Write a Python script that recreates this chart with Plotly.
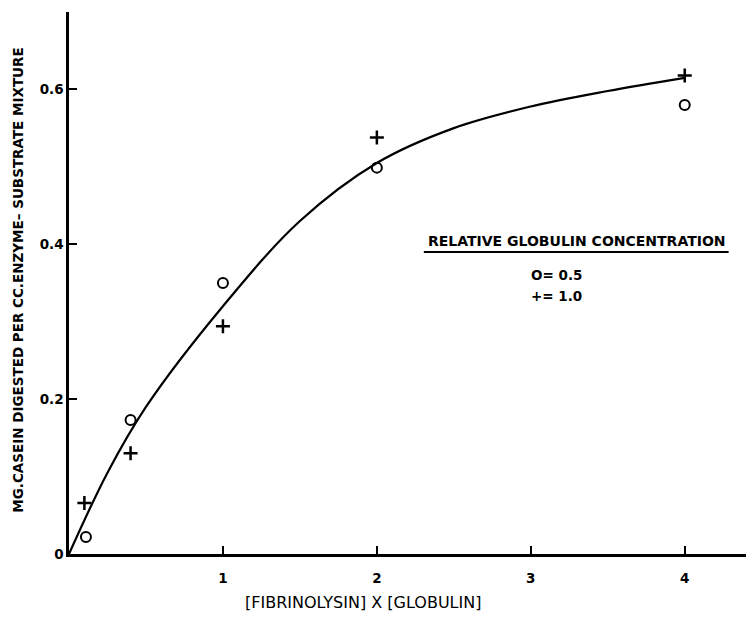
import plotly.graph_objects as go

# Data
x_half = [0.11, 0.4, 1.0, 2.0, 4.0]
y_half = [0.022, 0.173, 0.35, 0.499, 0.58]
x_one = [0.1, 0.4, 1.0, 2.0, 4.0]
y_one = [0.066, 0.13, 0.294, 0.538, 0.618]
curve_x = [0, 0.25, 0.5, 1.0, 1.5, 2.0, 2.5, 3.0, 3.5, 4.0]
curve_y = [0, 0.105, 0.19, 0.32, 0.43, 0.505, 0.55, 0.578, 0.598, 0.615]
x_ticks = [1, 2, 3, 4]
x_tick_labels = ["1", "2", "3", "4"]
y_ticks = [0, 0.2, 0.4, 0.6]
y_tick_labels = ["0", "0.2", "0.4", "0.6"]

FONT = "DejaVu Sans"

fig = go.Figure()
fig.add_trace(go.Scatter(x=curve_x, y=curve_y, mode="lines",
                         line=dict(color="black", width=2.2, shape="spline", smoothing=1.0),
                         hoverinfo="skip"))
fig.add_trace(go.Scatter(x=x_half, y=y_half, mode="markers",
                         marker=dict(symbol="circle-open", size=10, color="black",
                                     line=dict(color="black", width=2))))
fig.add_trace(go.Scatter(x=x_one, y=y_one, mode="markers",
                         marker=dict(symbol="cross-thin-open", size=10, color="black",
                                     line=dict(color="black", width=2.5))))

fig.update_layout(
    width=754, height=618,
    margin=dict(l=61, r=8, t=4, b=72),
    paper_bgcolor="white", plot_bgcolor="white",
    showlegend=False,
    font=dict(family=FONT, color="black"),
    xaxis=dict(range=[0, 4.45], showgrid=False, zeroline=False,
               showline=True, linecolor="black", linewidth=2.5,
               ticks="inside", ticklen=8, tickwidth=2, tickcolor="black",
               tickvals=x_ticks, ticktext=x_tick_labels,
               tickfont=dict(family=FONT, size=13.5, color="black", weight="bold"),
               ticklabelstandoff=10),
    yaxis=dict(range=[0, 0.70], showgrid=False, zeroline=False,
               showline=True, linecolor="black", linewidth=2.5,
               ticks="inside", ticklen=8, tickwidth=2, tickcolor="black",
               tickvals=y_ticks, ticktext=y_tick_labels,
               tickfont=dict(family=FONT, size=13.5, color="black", weight="bold")),
)

fig.add_annotation(text="MG.CASEIN DIGESTED PER CC.ENZYME\u2013 SUBSTRATE MIXTURE",
                   xref="paper", yref="paper", x=-0.0745, y=0.506,
                   xanchor="center", yanchor="middle",
                   textangle=-90, showarrow=False,
                   font=dict(family=FONT, size=13.5, color="black", weight="bold"))
fig.add_annotation(text="[FIBRINOLYSIN] X [GLOBULIN]",
                   xref="paper", yref="paper", x=0.429, y=-0.09,
                   xanchor="center", yanchor="middle",
                   showarrow=False,
                   font=dict(family=FONT, size=16, color="black"))
fig.add_annotation(text="RELATIVE GLOBULIN CONCENTRATION",
                   xref="paper", yref="paper", x=0.742, y=0.578,
                   xanchor="center", yanchor="middle",
                   showarrow=False,
                   font=dict(family=FONT, size=14, color="black", weight="bold"))
fig.add_shape(type="line", xref="paper", yref="paper",
              x0=0.518, x1=0.963, y0=0.557, y1=0.557,
              line=dict(color="black", width=2))
fig.add_annotation(text="O= 0.5", x=2.99, y=0.36, xanchor="left", yanchor="middle",
                   showarrow=False,
                   font=dict(family=FONT, size=13.5, color="black", weight="bold"))
fig.add_annotation(text="+= 1.0", x=2.99, y=0.333, xanchor="left", yanchor="middle",
                   showarrow=False,
                   font=dict(family=FONT, size=13.5, color="black", weight="bold"))

fig.write_html("out.html")
